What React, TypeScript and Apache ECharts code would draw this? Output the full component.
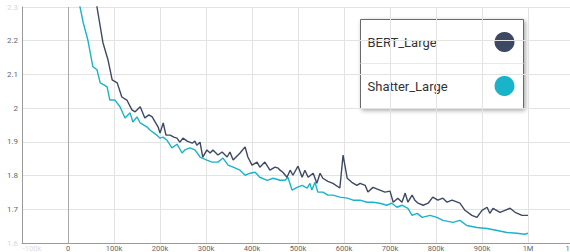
import React, { useEffect, useRef } from "react";
import * as echarts from "echarts";

const seriesNames = ["BERT_Large", "Shatter_Large"];
const seriesColors = ["#3d4963", "#19b4c9"];

// [step, loss]
const bertLarge: [number, number][] = [
  [0, 3.5], [10000, 3.0], [25000, 2.75], [40000, 2.55], [50000, 2.44], [63000, 2.3],
  [76000, 2.194], [87000, 2.143], [96000, 2.084], [107000, 2.075], [117000, 2.033],
  [128000, 2.024], [139000, 1.995], [146000, 1.989], [157000, 2.004], [167000, 1.971],
  [176000, 1.98], [183000, 1.974], [196000, 1.944], [200000, 1.926], [207000, 1.956],
  [213000, 1.92], [222000, 1.92], [230000, 1.914], [237000, 1.911], [243000, 1.899],
  [250000, 1.911], [259000, 1.902], [270000, 1.896], [276000, 1.902], [280000, 1.89],
  [287000, 1.899], [293000, 1.855], [302000, 1.876], [309000, 1.867], [315000, 1.876],
  [326000, 1.861], [335000, 1.87], [346000, 1.855], [352000, 1.87], [359000, 1.846],
  [374000, 1.867], [385000, 1.885], [391000, 1.855], [400000, 1.831], [411000, 1.84],
  [417000, 1.825], [428000, 1.84], [439000, 1.816], [450000, 1.825], [457000, 1.822],
  [461000, 1.816], [467000, 1.81], [476000, 1.795], [483000, 1.816], [489000, 1.801],
  [500000, 1.828], [509000, 1.795], [515000, 1.816], [522000, 1.795], [533000, 1.807],
  [541000, 1.777], [548000, 1.807], [554000, 1.792], [565000, 1.783], [576000, 1.777],
  [591000, 1.763], [598000, 1.861], [607000, 1.792], [617000, 1.78], [628000, 1.771],
  [635000, 1.777], [646000, 1.771], [652000, 1.751], [663000, 1.765], [678000, 1.757],
  [689000, 1.751], [700000, 1.754], [707000, 1.721], [717000, 1.733], [726000, 1.721],
  [733000, 1.748], [739000, 1.721], [748000, 1.742], [754000, 1.727], [761000, 1.718],
  [772000, 1.712], [783000, 1.718], [793000, 1.736], [804000, 1.727], [815000, 1.733],
  [824000, 1.721], [835000, 1.727], [852000, 1.718], [863000, 1.697], [878000, 1.682],
  [889000, 1.676], [900000, 1.697], [911000, 1.706], [917000, 1.688], [924000, 1.703],
  [939000, 1.691], [950000, 1.697], [961000, 1.703], [972000, 1.691], [987000, 1.682],
  [1000000, 1.682],
];

const shatterLarge: [number, number][] = [
  [0, 2.9], [10000, 2.6], [20000, 2.4], [26000, 2.301], [33000, 2.254], [43000, 2.203],
  [54000, 2.123], [63000, 2.114], [70000, 2.075], [78000, 2.069], [85000, 2.063],
  [91000, 2.024], [102000, 2.024], [113000, 2.004], [124000, 1.971], [135000, 1.986],
  [141000, 1.959], [150000, 1.974], [157000, 1.956], [172000, 1.944], [178000, 1.935],
  [193000, 1.92], [200000, 1.911], [207000, 1.914], [215000, 1.905], [226000, 1.882],
  [237000, 1.893], [248000, 1.867], [254000, 1.876], [265000, 1.882], [276000, 1.876],
  [287000, 1.855], [302000, 1.846], [313000, 1.84], [326000, 1.84], [337000, 1.852],
  [348000, 1.831], [359000, 1.825], [374000, 1.816], [385000, 1.801], [396000, 1.807],
  [407000, 1.81], [417000, 1.795], [433000, 1.786], [446000, 1.792], [461000, 1.786],
  [472000, 1.786], [478000, 1.795], [487000, 1.757], [498000, 1.765], [509000, 1.771],
  [520000, 1.763], [526000, 1.777], [530000, 1.757], [537000, 1.78], [543000, 1.751],
  [554000, 1.751], [565000, 1.742], [576000, 1.742], [591000, 1.736], [607000, 1.733],
  [620000, 1.727], [635000, 1.727], [650000, 1.721], [663000, 1.721], [678000, 1.718],
  [693000, 1.712], [704000, 1.718], [715000, 1.706], [726000, 1.712], [739000, 1.703],
  [748000, 1.682], [759000, 1.688], [770000, 1.676], [787000, 1.682], [802000, 1.676],
  [815000, 1.667], [837000, 1.661], [852000, 1.667], [867000, 1.652], [889000, 1.646],
  [911000, 1.643], [933000, 1.637], [954000, 1.631], [976000, 1.629], [993000, 1.626],
  [1000000, 1.629],
];

const xMin = -100000;
const xMax = 1100000;
const xInterval = 100000;
const yMin = 1.6;
const yMax = 2.3;
const yInterval = 0.1;

function fmtX(v: number): string {
  if (v === 0) return "0";
  if (Math.abs(v) >= 1000000) return `${+(v / 1000000).toFixed(1)}M`;
  return `${Math.round(v / 1000)}k`;
}

export default function App() {
  const ref = useRef<HTMLDivElement>(null);
  useEffect(() => {
    if (!ref.current) return;
    const chart = echarts.init(ref.current, undefined, { renderer: "svg" });
    const font = "Roboto, 'Noto Sans', sans-serif";
    const legendX = 358;
    const legendY = 19;
    const legendW = 163;
    const rowH = 44;
    chart.setOption({
      animation: false,
      grid: {
        left: 22,
        top: 7,
        width: 552,
        height: 236,
        containLabel: false,
        outerBoundsMode: "none",
      },
      xAxis: {
        type: "value",
        min: xMin,
        max: xMax,
        interval: xInterval,
        axisLine: { show: true, onZero: false, lineStyle: { color: "#9a9a9a", width: 1 } },
        axisTick: { show: false },
        axisLabel: {
          fontFamily: font,
          fontSize: 7.5,
          lineHeight: 8,
          color: "#666",
          margin: 1,
          showMaxLabel: true,
          showMinLabel: true,
          hideOverlap: false,
          formatter: (v: number) =>
            v === xMin ? `{f|${fmtX(v)}}` : fmtX(v),
          rich: {
            f: {
              color: "#dcdcdc",
              fontSize: 7.5,
              lineHeight: 8,
              fontFamily: font,
              padding: [0, 0, 0, 20],
            },
          },
        },
        splitLine: { show: true, lineStyle: { color: "#e3e3e3", width: 1 } },
      },
      yAxis: {
        type: "value",
        min: yMin,
        max: yMax,
        interval: yInterval,
        axisLine: { show: true, onZero: false, lineStyle: { color: "#9a9a9a", width: 1 } },
        axisTick: { show: false },
        axisLabel: {
          fontFamily: font,
          fontSize: 8,
          color: "#666",
          margin: 4,
          showMinLabel: true,
          showMaxLabel: true,
          formatter: (v: number) => {
            const s = `${+v.toFixed(1)}`;
            return Math.abs(v - yMin) < 1e-6 || Math.abs(v - yMax) < 1e-6 ? `{f|${s}}` : s;
          },
          rich: { f: { color: "#d8d8d8", fontSize: 8, fontFamily: font } },
        },
        splitLine: { show: true, lineStyle: { color: "#e3e3e3", width: 1 } },
      },
      series: [
        {
          name: seriesNames[0],
          type: "line",
          data: bertLarge,
          showSymbol: false,
          symbol: "none",
          clip: true,
          z: 3,
          lineStyle: { color: seriesColors[0], width: 1.4 },
          markLine: {
            silent: true,
            symbol: "none",
            label: { show: false },
            lineStyle: { color: "#a8a8a8", width: 1, type: "solid" },
            data: [{ xAxis: 0 }],
          },
        },
        {
          name: seriesNames[1],
          type: "line",
          data: shatterLarge,
          showSymbol: false,
          symbol: "none",
          clip: true,
          z: 2,
          lineStyle: { color: seriesColors[1], width: 1.4 },
        },
      ],
      graphic: [
        {
          type: "group",
          left: legendX,
          top: legendY,
          z: 100,
          children: [
            {
              type: "rect",
              shape: { x: 0, y: 0, width: legendW, height: rowH * 2 + 1 },
              style: {
                fill: "#fff",
                stroke: "#6a6a6a",
                lineWidth: 1,
                shadowBlur: 4,
                shadowOffsetX: 1.5,
                shadowOffsetY: 1.5,
                shadowColor: "rgba(0,0,0,0.35)",
              },
            },
            {
              type: "line",
              shape: { x1: 0, y1: rowH, x2: legendW, y2: rowH },
              style: { stroke: "#e8e8e8", lineWidth: 1 },
            },
            ...seriesNames.flatMap((name, i) => [
              {
                type: "text",
                x: 7,
                y: rowH * i + rowH / 2 + 0.5,
                style: {
                  text: name,
                  fill: "#333",
                  font: `13px ${font}`,
                  verticalAlign: "middle",
                  align: "left",
                },
              },
              {
                type: "circle",
                shape: { cx: 144, cy: rowH * i + rowH / 2 + 0.5, r: 10 },
                style: { fill: seriesColors[i] },
              },
            ]),
          ],
        },
      ],
    });
    return () => chart.dispose();
  }, []);
  return (
    <div
      ref={ref}
      style={{ position: "fixed", left: 0, top: 0, width: 570, height: 252, background: "#fff" }}
    />
  );
}
